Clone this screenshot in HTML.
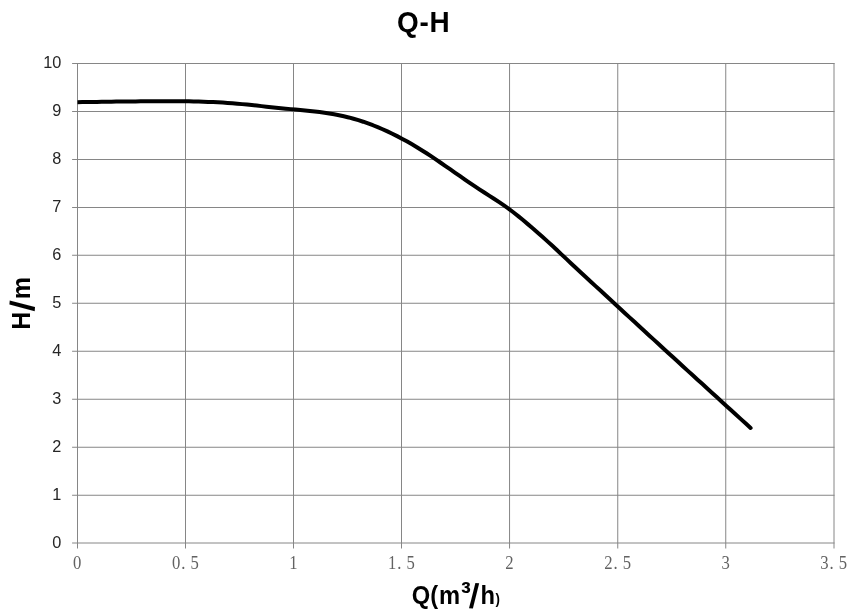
<!DOCTYPE html>
<html lang="en">
<head>
<meta charset="utf-8">
<title>Q-H</title>
<style>
html,body{margin:0;padding:0;background:#fff;}
body{width:852px;height:612px;overflow:hidden;}
svg{display:block;}
.ylab{font-family:"Liberation Sans",sans-serif;font-size:16.3px;fill:#262626;text-anchor:end;}
.xlab{font-family:"Liberation Serif",serif;font-size:18.2px;fill:#626262;text-anchor:middle;letter-spacing:0.6px;}
.title{font-family:"Liberation Sans",sans-serif;font-weight:bold;font-size:29.4px;fill:#000;text-anchor:middle;}
.axt{font-family:"Liberation Sans",sans-serif;font-weight:bold;font-size:25px;fill:#000;}
</style>
</head>
<body>
<svg width="852" height="612" viewBox="0 0 852 612">
<rect x="0" y="0" width="852" height="612" fill="#ffffff"/>

<g stroke="#868686" stroke-width="1" fill="none">
<line x1="72.10" y1="543.00" x2="834.50" y2="543.00"/>
<line x1="72.10" y1="495.25" x2="834.50" y2="495.25"/>
<line x1="72.10" y1="447.25" x2="834.50" y2="447.25"/>
<line x1="72.10" y1="399.25" x2="834.50" y2="399.25"/>
<line x1="72.10" y1="351.25" x2="834.50" y2="351.25"/>
<line x1="72.10" y1="303.25" x2="834.50" y2="303.25"/>
<line x1="72.10" y1="255.25" x2="834.50" y2="255.25"/>
<line x1="72.10" y1="207.50" x2="834.50" y2="207.50"/>
<line x1="72.10" y1="159.50" x2="834.50" y2="159.50"/>
<line x1="72.10" y1="111.50" x2="834.50" y2="111.50"/>
<line x1="72.10" y1="63.50" x2="834.50" y2="63.50"/>
<line x1="77.50" y1="63.00" x2="77.50" y2="548.50"/>
<line x1="185.50" y1="63.00" x2="185.50" y2="548.50"/>
<line x1="293.50" y1="63.00" x2="293.50" y2="548.50"/>
<line x1="401.50" y1="63.00" x2="401.50" y2="548.50"/>
<line x1="509.55" y1="63.00" x2="509.55" y2="548.50"/>
<line x1="617.75" y1="63.00" x2="617.75" y2="548.50"/>
<line x1="725.75" y1="63.00" x2="725.75" y2="548.50"/>
<line x1="834.00" y1="63.00" x2="834.00" y2="548.50"/>
</g>
<defs><clipPath id="plot"><rect x="77.5" y="63.5" width="756.5" height="479.5"/></clipPath></defs>
<path d="M77.5,102.15 L82.3,102.08 L87.2,102.02 L92.0,101.95 L96.9,101.88 L101.7,101.82 L106.6,101.75 L111.4,101.69 L116.2,101.62 L121.1,101.56 L125.9,101.50 L130.8,101.44 L135.6,101.38 L140.5,101.33 L145.3,101.28 L150.1,101.24 L155.0,101.21 L159.8,101.18 L164.7,101.17 L169.5,101.17 L174.3,101.19 L179.2,101.23 L184.0,101.28 L188.9,101.35 L193.7,101.45 L198.6,101.57 L203.4,101.72 L208.2,101.89 L213.1,102.10 L217.9,102.34 L222.8,102.62 L227.6,102.93 L232.5,103.29 L237.3,103.69 L242.1,104.12 L247.0,104.60 L251.8,105.09 L256.7,105.61 L261.5,106.13 L266.4,106.65 L271.2,107.16 L276.0,107.67 L280.9,108.16 L285.7,108.65 L290.6,109.12 L295.4,109.58 L300.3,110.03 L305.1,110.49 L309.9,110.97 L314.8,111.49 L319.6,112.07 L324.5,112.71 L329.3,113.44 L334.1,114.26 L339.0,115.20 L343.8,116.26 L348.7,117.44 L353.5,118.74 L358.4,120.17 L363.2,121.73 L368.0,123.42 L372.9,125.23 L377.7,127.17 L382.6,129.24 L387.4,131.42 L392.3,133.72 L397.1,136.14 L401.9,138.68 L406.8,141.32 L411.6,144.08 L416.5,146.95 L421.3,149.93 L426.2,153.01 L431.0,156.18 L435.8,159.42 L440.7,162.72 L445.5,166.06 L450.4,169.42 L455.2,172.80 L460.1,176.17 L464.9,179.53 L469.7,182.86 L474.6,186.15 L479.4,189.39 L484.3,192.55 L489.1,195.65 L494.0,198.73 L498.8,201.86 L503.6,205.11 L508.5,208.54 L513.3,212.22 L518.2,216.10 L523.0,220.08 L527.8,224.14 L532.7,228.28 L537.5,232.49 L542.4,236.77 L547.2,241.12 L552.1,245.54 L556.9,250.03 L561.7,254.58 L566.6,259.14 L571.4,263.71 L576.3,268.25 L581.1,272.75 L586.0,277.22 L590.8,281.68 L595.6,286.14 L600.5,290.60 L605.3,295.07 L610.2,299.54 L615.0,304.00 L619.9,308.47 L624.7,312.93 L629.5,317.39 L634.4,321.84 L639.2,326.29 L644.1,330.73 L648.9,335.17 L653.8,339.61 L658.6,344.05 L663.4,348.48 L668.3,352.91 L673.1,357.33 L678.0,361.76 L682.8,366.18 L687.6,370.60 L692.5,375.02 L697.3,379.44 L702.2,383.85 L707.0,388.26 L711.9,392.68 L716.7,397.09 L721.5,401.50 L726.4,405.91 L731.2,410.32 L736.1,414.73 L740.9,419.13 L745.8,423.54 L750.6,427.95" fill="none" stroke="#000" stroke-width="4" stroke-linecap="round" stroke-linejoin="round" clip-path="url(#plot)"/>
<text class="ylab" x="61.3" y="547.9">0</text>
<text class="ylab" x="61.3" y="499.9">1</text>
<text class="ylab" x="61.3" y="452.0">2</text>
<text class="ylab" x="61.3" y="404.0">3</text>
<text class="ylab" x="61.3" y="356.1">4</text>
<text class="ylab" x="61.3" y="308.1">5</text>
<text class="ylab" x="61.3" y="260.2">6</text>
<text class="ylab" x="61.3" y="212.3">7</text>
<text class="ylab" x="61.3" y="164.3">8</text>
<text class="ylab" x="61.3" y="116.3">9</text>
<text class="ylab" x="61.3" y="68.4">10</text>
<text class="xlab" transform="translate(77.5,568.6) scale(0.915,1)">0</text>
<text class="xlab" transform="translate(185.6,568.6) scale(0.915,1)" dx="0 0.4 5.0">0.5</text>
<text class="xlab" transform="translate(293.6,568.6) scale(0.915,1)">1</text>
<text class="xlab" transform="translate(401.7,568.6) scale(0.915,1)" dx="0 0.4 5.0">1.5</text>
<text class="xlab" transform="translate(509.8,568.6) scale(0.915,1)">2</text>
<text class="xlab" transform="translate(617.9,568.6) scale(0.915,1)" dx="0 0.4 5.0">2.5</text>
<text class="xlab" transform="translate(725.9,568.6) scale(0.915,1)">3</text>
<text class="xlab" transform="translate(834.0,568.6) scale(0.915,1)" dx="0 0.4 5.0">3.5</text>
<text class="title" transform="translate(423.3,31.9) scale(0.95,1)" dx="0 0.9 0.8">Q-H</text>
<text class="axt" transform="translate(30.1,329.7) rotate(-90)">H<tspan font-size="34.5" dx="0.2" dy="3.8" rotate="4">/</tspan><tspan dx="2.6" dy="-3.8" rotate="0">m</tspan></text>
<text class="axt" transform="translate(411.7,603.8) scale(0.95,1)">Q(<tspan dx="1">m</tspan><tspan font-size="31" dx="0.8" dy="-0.7">³</tspan><tspan font-size="34.5" dx="-2.2" dy="4.5" rotate="4">/</tspan><tspan dx="3.0" dy="-3.8" rotate="0">h</tspan><tspan font-size="14" dx="0.4" dy="0.5">)</tspan></text>
</svg>
</body>
</html>
